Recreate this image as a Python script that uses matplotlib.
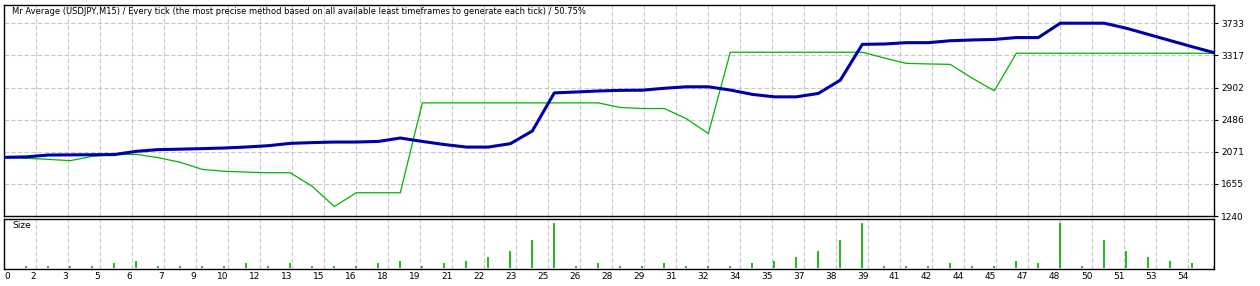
import numpy as np
import matplotlib
matplotlib.use("Agg")
import matplotlib.pyplot as plt

title = ("Mr Average (USDJPY,M15) / Every tick (the most precise method based on "
         "all available least timeframes to generate each tick) / 50.75%")

# balance / equity after each trade (trade 0..55)
balance = [1999, 2005, 2029, 2031, 2033, 2035, 2077, 2099, 2105, 2112,
           2120, 2133, 2150, 2180, 2190, 2197, 2197, 2205, 2249, 2205,
           2165, 2132, 2132, 2176, 2340, 2833, 2845, 2858, 2866, 2868,
           2893, 2912, 2912, 2870, 2814, 2782, 2782, 2826, 2998, 3461,
           3466, 3483, 3483, 3508, 3518, 3525, 3549, 3549, 3735, 3735,
           3735, 3670, 3590, 3510, 3430, 3353]
equity = [1999, 1987, 1973, 1956, 2012, 2035, 2038, 1995, 1935, 1843,
          1819, 1808, 1800, 1800, 1623, 1363, 1541, 1541, 1541, 2704,
          2704, 2704, 2704, 2704, 2704, 2704, 2704, 2704, 2644, 2631,
          2631, 2500, 2307, 3359, 3359, 3359, 3359, 3359, 3359, 3359,
          3285, 3215, 3208, 3202, 3023, 2860, 3346, 3346, 3346, 3346,
          3346, 3346, 3346, 3346, 3346, 3346]
# lot size of trades 1..55
sizes = [0.01, 0.01, 0.01, 0.01, 0.02, 0.03, 0.01, 0.01, 0.01, 0.01,
         0.02, 0.01, 0.02, 0.01, 0.01, 0.01, 0.02, 0.03, 0.01, 0.02,
         0.03, 0.05, 0.08, 0.13, 0.21, 0.01, 0.02, 0.01, 0.01, 0.02,
         0.01, 0.01, 0.01, 0.02, 0.03, 0.05, 0.08, 0.13, 0.21, 0.01,
         0.01, 0.01, 0.02, 0.01, 0.01, 0.03, 0.02, 0.21, 0.01, 0.13,
         0.08, 0.05, 0.03, 0.02, 0.01]

y_ticks = [1240, 1655.5, 2071, 2486.5, 2902, 3317.5, 3733]
y_labels = ["1240", "1655", "2071", "2486", "2902", "3317", "3733"]
x_labels = ["0", "2", "3", "5", "6", "7", "9", "10", "12", "13", "15", "16",
            "18", "19", "21", "22", "23", "25", "26", "28", "29", "31", "32",
            "34", "35", "37", "38", "39", "41", "42", "44", "45", "47", "48",
            "50", "51", "53", "54"]

W, H = 1260, 286
fig = plt.figure(figsize=(W / 100, H / 100), dpi=100)
fs = 6.5
grid_kw = dict(color="#c8c8c8", lw=0.8, ls=(0, (4, 2)))

def box(l, t, r, b):
    return [l / W, 1 - b / H, (r - l) / W, (b - t) / H]

ax = fig.add_axes(box(4.3, 4.5, 1214.3, 216))
ax2 = fig.add_axes(box(4.3, 219, 1214.3, 269.3), sharex=ax)

n = len(balance)
t = np.arange(n)
grid_step = 16 / 11
x_ticks = np.arange(len(x_labels)) * grid_step

ax.set_xlim(0, n - 1)
ax.set_ylim(1240, 3977)
for v in y_ticks[1:]:
    ax.axhline(v, **grid_kw, zorder=0)
for xv in x_ticks[1:]:
    ax.axvline(xv, **grid_kw, zorder=0)
    ax2.axvline(xv, **grid_kw, zorder=0)

ax.plot(t, equity, color="#00b400", lw=0.9, zorder=2)
ax.plot(t, balance, color="#0000a8", lw=2.2, zorder=3)

ax.yaxis.tick_right()
ax.set_yticks(y_ticks)
ax.set_yticklabels(y_labels, fontsize=fs)
ax.tick_params(axis="y", length=3, width=0.8, pad=2)
ax.tick_params(axis="x", length=0, labelbottom=False)
ax.text(8 / 1210, 1 - 7.5 / 211.5, title, transform=ax.transAxes,
        fontsize=6, ha="left", va="center")

ax2.vlines(t[1:], 0, sizes, color="#00aa00", lw=1.2)
ax2.set_ylim(-0.0075, 0.23)
ax2.set_yticks([])
ax2.set_xticks(x_ticks)
ax2.set_xticklabels(x_labels, fontsize=fs)
ax2.tick_params(axis="x", length=0, pad=2)
for i, lab in enumerate(ax2.get_xticklabels()):
    lab.set_ha("left" if i == 0 else "right")
ax2.text(8 / 1210, 1 - 7 / 50.3, "Size", transform=ax2.transAxes,
         fontsize=fs, ha="left", va="center")

for a in (ax, ax2):
    for s in a.spines.values():
        s.set_linewidth(1.0)
        s.set_color("black")

fig.savefig("out.png", dpi=100)
